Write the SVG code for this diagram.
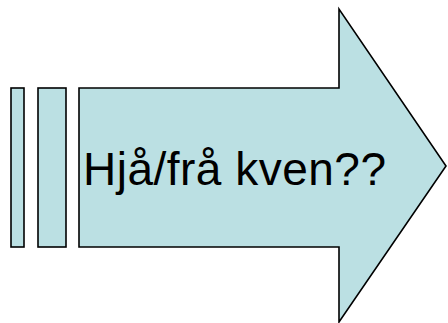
<svg xmlns="http://www.w3.org/2000/svg" width="448" height="323" viewBox="0 0 448 323">
<style>
.s{fill:#BBE0E3;stroke:#000;stroke-width:1.6;stroke-linejoin:miter}
.t{font-family:"Liberation Sans",Arial,sans-serif;font-size:46px;fill:#000}
</style>
<rect width="448" height="323" fill="#fff"/>
<g id="arrow">
<rect class="s" x="11" y="88" width="13" height="159"/>
<rect class="s" x="38" y="88" width="28" height="159"/>
<path class="s" d="M79,88 H339 V9 L446,166 L339,322 V247 H79 Z"/>
<text class="t" x="83" y="185" textLength="303" lengthAdjust="spacing">Hjå/frå kven??</text>
</g>
<g id="connectors"/>
</svg>
